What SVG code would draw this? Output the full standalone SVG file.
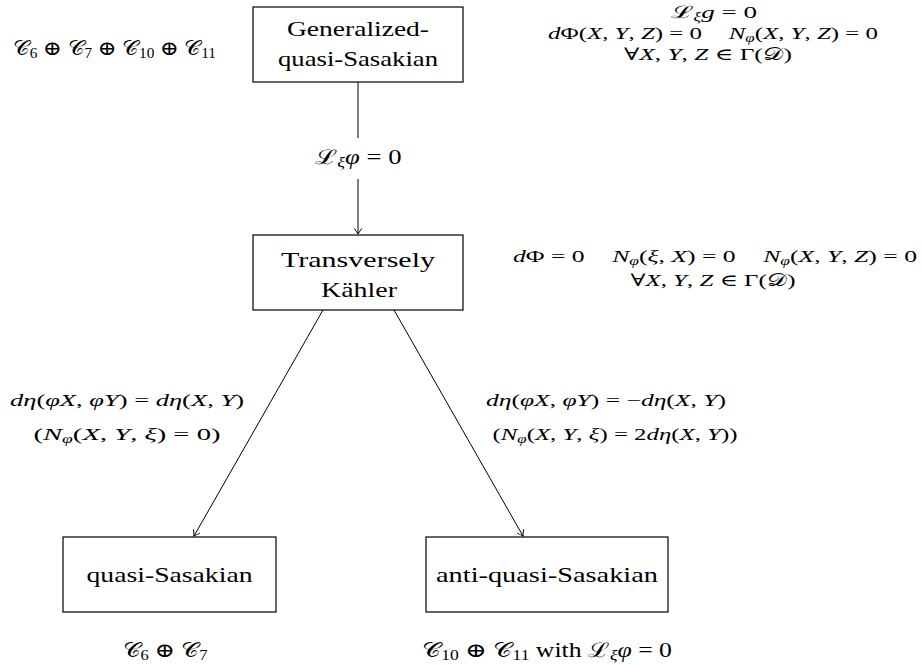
<svg xmlns="http://www.w3.org/2000/svg" width="923" height="665" viewBox="0 0 923 665">
<defs>
<style>
text{font-family:"Liberation Serif","DejaVu Serif",serif;fill:#000;text-anchor:middle}
.lbl{font-size:22px}
.m{font-size:17px}
.big{font-size:20px}
.i{font-style:italic}
.sb{font-size:0.68em;baseline-shift:-3px}
.box{fill:#fff;stroke:#000;stroke-width:1.2}
.edge{fill:none;stroke:#000;stroke-width:1;marker-end:url(#arr)}
</style>
<marker id="arr" markerUnits="userSpaceOnUse" markerWidth="12" markerHeight="12" viewBox="-7 -6 8 12" refX="0" refY="0" orient="auto"><path d="M-5.5,-3.8 Q-1.8,-1 0,0 Q-1.8,1 -5.5,3.8" fill="none" stroke="#000" stroke-width="1"/></marker>
</defs>
<rect width="923" height="665" fill="#fff"/>

<g id="connectors">
<path class="edge" d="M358,82 V138 M358,179 V234"/>
<path class="edge" d="M323,310 L194,536"/>
<path class="edge" d="M394,310 L523,536"/>
<text class="big" x="358" y="164" textLength="87" lengthAdjust="spacingAndGlyphs">ℒ<tspan class="sb i">ξ</tspan><tspan class="i">φ</tspan> = 0</text>
<text class="m" x="127" y="406" textLength="234" lengthAdjust="spacingAndGlyphs"><tspan class="i">dη</tspan>(<tspan class="i">φX</tspan>, <tspan class="i">φY</tspan>) = <tspan class="i">dη</tspan>(<tspan class="i">X</tspan>, <tspan class="i">Y</tspan>)</text>
<text class="m" x="127" y="440" textLength="187" lengthAdjust="spacingAndGlyphs">(<tspan class="i">N</tspan><tspan class="sb i">φ</tspan>(<tspan class="i">X</tspan>, <tspan class="i">Y</tspan>, <tspan class="i">ξ</tspan>) = 0)</text>
<text class="m" x="606" y="406" textLength="240" lengthAdjust="spacingAndGlyphs"><tspan class="i">dη</tspan>(<tspan class="i">φX</tspan>, <tspan class="i">φY</tspan>) = −<tspan class="i">dη</tspan>(<tspan class="i">X</tspan>, <tspan class="i">Y</tspan>)</text>
<text class="m" x="615" y="440" textLength="245" lengthAdjust="spacingAndGlyphs">(<tspan class="i">N</tspan><tspan class="sb i">φ</tspan>(<tspan class="i">X</tspan>, <tspan class="i">Y</tspan>, <tspan class="i">ξ</tspan>) = 2<tspan class="i">dη</tspan>(<tspan class="i">X</tspan>, <tspan class="i">Y</tspan>))</text>
</g>

<g id="node-gqs">
<rect class="box" x="253" y="7" width="210" height="75"/>
<text class="lbl" x="358" y="36" textLength="142" lengthAdjust="spacingAndGlyphs">Generalized-</text>
<text class="lbl" x="358" y="66" textLength="160" lengthAdjust="spacingAndGlyphs">quasi-Sasakian</text>
</g>

<g id="node-tk">
<rect class="box" x="253" y="235" width="210" height="75"/>
<text class="lbl" x="358" y="267" textLength="154" lengthAdjust="spacingAndGlyphs">Transversely</text>
<text class="lbl" x="359" y="297" textLength="76" lengthAdjust="spacingAndGlyphs">Kähler</text>
</g>

<g id="node-qs">
<rect class="box" x="63" y="537" width="213" height="75"/>
<text class="lbl" x="169.5" y="582" textLength="166" lengthAdjust="spacingAndGlyphs">quasi-Sasakian</text>
</g>

<g id="node-aqs">
<rect class="box" x="426" y="537" width="242" height="75"/>
<text class="lbl" x="547" y="582" textLength="222" lengthAdjust="spacingAndGlyphs">anti-quasi-Sasakian</text>
</g>

<g id="ann-gqs-class">
<text class="big" x="114.5" y="55" textLength="203" lengthAdjust="spacingAndGlyphs">𝒞<tspan class="sb">6</tspan> ⊕ 𝒞<tspan class="sb">7</tspan> ⊕ 𝒞<tspan class="sb">10</tspan> ⊕ 𝒞<tspan class="sb">11</tspan></text>
</g>

<g id="ann-gqs-cond">
<text class="m" x="714" y="18" textLength="86" lengthAdjust="spacingAndGlyphs">ℒ<tspan class="sb i">ξ</tspan><tspan class="i">g</tspan> = 0</text>
<text class="m" x="713" y="39" textLength="330" lengthAdjust="spacingAndGlyphs"><tspan class="i">d</tspan>Φ(<tspan class="i">X</tspan>, <tspan class="i">Y</tspan>, <tspan class="i">Z</tspan>) = 0<tspan dx="14"> </tspan><tspan class="i">N</tspan><tspan class="sb i">φ</tspan>(<tspan class="i">X</tspan>, <tspan class="i">Y</tspan>, <tspan class="i">Z</tspan>) = 0</text>
<text class="m" x="708" y="60" textLength="168" lengthAdjust="spacingAndGlyphs">∀<tspan class="i">X</tspan>, <tspan class="i">Y</tspan>, <tspan class="i">Z</tspan> ∈ Γ(𝒟)</text>
</g>

<g id="ann-tk-cond">
<text class="m" x="715" y="262" textLength="404" lengthAdjust="spacingAndGlyphs"><tspan class="i">d</tspan>Φ = 0<tspan dx="14"> </tspan><tspan class="i">N</tspan><tspan class="sb i">φ</tspan>(<tspan class="i">ξ</tspan>, <tspan class="i">X</tspan>) = 0<tspan dx="14"> </tspan><tspan class="i">N</tspan><tspan class="sb i">φ</tspan>(<tspan class="i">X</tspan>, <tspan class="i">Y</tspan>, <tspan class="i">Z</tspan>) = 0</text>
<text class="m" x="713" y="286" textLength="165" lengthAdjust="spacingAndGlyphs">∀<tspan class="i">X</tspan>, <tspan class="i">Y</tspan>, <tspan class="i">Z</tspan> ∈ Γ(𝒟)</text>
</g>

<g id="ann-qs-class">
<text class="big" x="165" y="657" textLength="85" lengthAdjust="spacingAndGlyphs">𝒞<tspan class="sb">6</tspan> ⊕ 𝒞<tspan class="sb">7</tspan></text>
</g>

<g id="ann-aqs-class">
<text class="big" x="547" y="657" textLength="250" lengthAdjust="spacingAndGlyphs">𝒞<tspan class="sb">10</tspan> ⊕ 𝒞<tspan class="sb">11</tspan> with ℒ<tspan class="sb i">ξ</tspan><tspan class="i">φ</tspan> = 0</text>
</g>
</svg>
